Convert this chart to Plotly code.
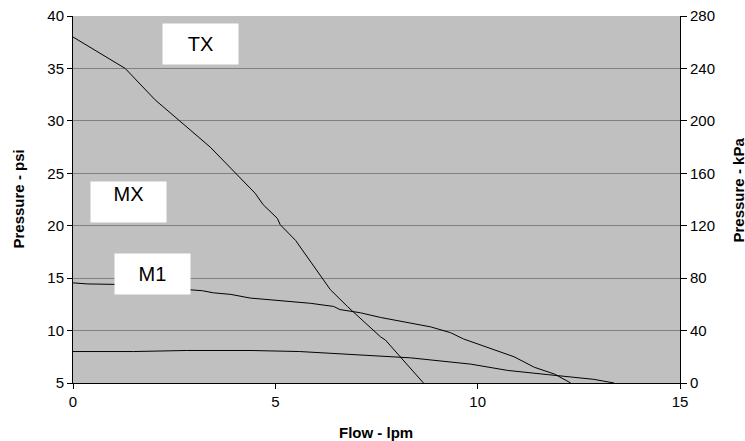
import plotly.graph_objects as go

tx_x = [0, 1.29, 2.03, 3.39, 4.5, 4.7, 5.05, 5.12, 5.5, 5.95, 6.36, 6.78, 7.1, 7.6, 7.72, 8.0, 8.42, 8.66]
tx_y = [38.0, 35.0, 32.0, 27.5, 23.1, 22.0, 20.7, 20.1, 18.6, 16.1, 13.9, 12.3, 11.2, 9.4, 9.1, 7.9, 6.0, 5.0]

m1_x = [0, 0.35, 1.1, 2.9, 3.2, 3.47, 3.9, 4.38, 5.2, 5.87, 6.44, 6.6, 7.1, 7.6, 8.84, 9.33, 9.65, 10.4, 10.9, 11.4, 11.9, 12.3]
m1_y = [14.55, 14.45, 14.4, 13.9, 13.8, 13.6, 13.45, 13.1, 12.85, 12.6, 12.3, 12.0, 11.7, 11.25, 10.35, 9.8, 9.2, 8.2, 7.5, 6.5, 5.85, 5.0]

mx_x = [0, 1.5, 2.8, 4.4, 5.6, 7.1, 7.6, 8.34, 9.83, 10.74, 11.73, 12.87, 13.37]
mx_y = [8.0, 8.0, 8.1, 8.1, 8.0, 7.7, 7.55, 7.4, 6.8, 6.2, 5.8, 5.35, 5.0]

labels = ["TX", "MX", "M1"]
label_x = [3.14, 1.37, 1.965]
label_y = [37.33, 22.22, 15.4]
label_valign = ["middle", "top", "middle"]

x_title = "Flow - lpm"
y_title = "Pressure - psi"
y2_title = "Pressure - kPa"

font = "Liberation Sans, Arial, sans-serif"

fig = go.Figure()
for xs, ys in [(tx_x, tx_y), (m1_x, m1_y), (mx_x, mx_y)]:
    fig.add_trace(go.Scatter(x=xs, y=ys, mode="lines", line=dict(color="black", width=1),
                             showlegend=False, hoverinfo="skip"))
fig.add_trace(go.Scatter(x=[0, 15], y=[0, 280], yaxis="y2", mode="lines",
                         line=dict(color="rgba(0,0,0,0)"), showlegend=False, hoverinfo="skip"))

for t, x, y, va in zip(labels, label_x, label_y, label_valign):
    fig.add_annotation(x=x, y=y, text=t, showarrow=False, bgcolor="white", valign=va,
                       width=73, height=38, borderpad=1,
                       font=dict(size=20, color="black", family=font))

title_font = dict(size=15, color="black", family=font)
fig.add_annotation(xref="paper", yref="paper", x=0.5, y=0, yshift=-49, xshift=-0.5,
                   xanchor="center", yanchor="middle", text="<b>" + x_title + "</b>",
                   showarrow=False, font=title_font)
fig.add_annotation(xref="paper", yref="paper", x=0, y=0.5, xshift=-55, yshift=0, xanchor="center",
                   yanchor="middle", textangle=-90, text="<b>" + y_title + "</b>", showarrow=False,
                   font=title_font)
fig.add_annotation(xref="paper", yref="paper", x=1, y=0.5, xshift=58, yshift=9, xanchor="center",
                   yanchor="middle", textangle=-90, text="<b>" + y2_title + "</b>", showarrow=False,
                   font=title_font)

fig.update_layout(
    width=745, height=441,
    margin=dict(l=73, r=65, t=16, b=58),
    paper_bgcolor="white", plot_bgcolor="#C0C0C0",
    font=dict(family=font, size=15, color="black"),
    xaxis=dict(range=[0, 15], tickvals=[0, 5, 10, 15], showgrid=False, zeroline=False,
               showline=True, linecolor="black", linewidth=1, ticks="outside", ticklen=5,
               tickcolor="black", automargin=False),
    yaxis=dict(range=[5, 40], tickvals=[5, 10, 15, 20, 25, 30, 35, 40], showgrid=True,
               gridcolor="#808080", gridwidth=1, zeroline=False, showline=True,
               linecolor="black", linewidth=1, ticks="outside", ticklen=5, tickcolor="black",
               automargin=False),
    yaxis2=dict(range=[0, 280], tickvals=[0, 40, 80, 120, 160, 200, 240, 280], overlaying="y",
                side="right", showgrid=False, zeroline=False, showline=True, linecolor="black",
                linewidth=1, ticks="outside", ticklen=6, tickcolor="black", automargin=False),
)

fig.write_html("out.html", config={"displayModeBar": False},
               post_script="document.body.style.margin='0';document.body.style.overflow='hidden';")
